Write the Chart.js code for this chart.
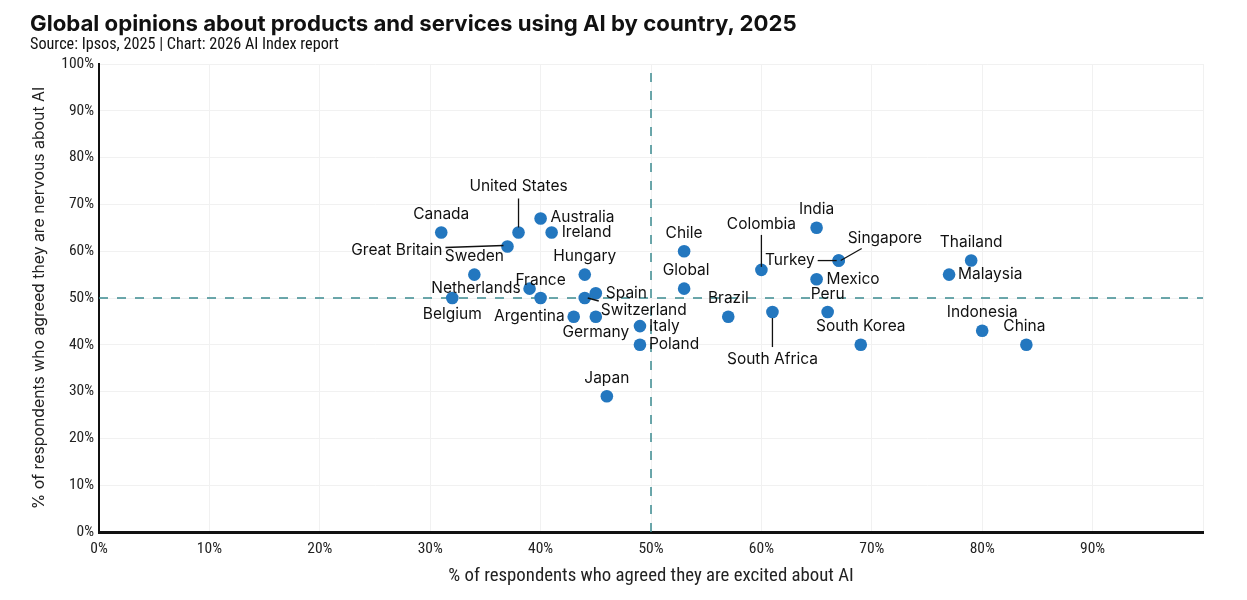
<!DOCTYPE html>
<html>
<head>
<meta charset="utf-8">
<script src="https://cdn.jsdelivr.net/npm/chart.js@4.4.1/dist/chart.umd.min.js"></script>
<style>
  html, body { margin: 0; padding: 0; background: #fff; }
  #wrap { position: relative; width: 1247px; height: 600px; }
  #title { position: absolute; left: 30px; top: 9px; font: 700 22.2px Inter, 'Open Sans', sans-serif; color: #111; white-space: nowrap; }
  #subtitle { position: absolute; left: 30px; top: 34px; font: 16.2px 'Liberation Sans Narrow', 'Roboto Condensed', Roboto, sans-serif; color: #111; white-space: nowrap; }
  canvas { position: absolute; left: 0; top: 0; }
</style>
</head>
<body>
<div id="wrap">
  <canvas id="chart" width="1247" height="600"></canvas>
  <div id="title">Global opinions about products and services using AI by country, 2025</div>
  <div id="subtitle">Source: Ipsos, 2025 | Chart: 2026 AI Index report</div>
</div>
<script>
const countries = ['Canada', 'United States', 'Australia', 'Ireland', 'Great Britain', 'Sweden',
  'Belgium', 'Netherlands', 'France', 'Hungary', 'Spain', 'Switzerland', 'Argentina', 'Germany',
  'Italy', 'Poland', 'Japan', 'Chile', 'Global', 'Colombia', 'India', 'Singapore', 'Turkey',
  'Mexico', 'Peru', 'Brazil', 'South Africa', 'South Korea', 'Thailand', 'Malaysia', 'Indonesia', 'China'];
const excited = [31, 38, 40, 41, 37, 34, 32, 40, 39, 44, 45, 44, 43, 45, 49, 49, 46, 53, 53, 60, 65, 67, 67, 65, 66, 57, 61, 69, 79, 77, 80, 84];
const nervous = [64, 64, 67, 64, 61, 55, 50, 50, 52, 55, 51, 50, 46, 46, 44, 40, 29, 60, 52, 56, 65, 58, 58, 54, 47, 46, 47, 40, 58, 55, 43, 40];

const referenceX = 50;
const referenceY = 50;
const markerX = [-6.8, 101];
const markerY = [68, 68];

// label placement relative to each dot (pixels); line = leader line [x1, y1, x2, y2]
const placement = {
  'Canada': { align: 'center', dx: 0, dy: -18 },
  'United States': { align: 'center', dx: 0, dy: -46, line: [0, -34, 0, -5] },
  'Australia': { align: 'left', dx: 10, dy: -1 },
  'Ireland': { align: 'left', dx: 10, dy: 0 },
  'Great Britain': { align: 'right', dx: -65, dy: 4, line: [-62, 1, -4, -1] },
  'Sweden': { align: 'center', dx: 0, dy: -18 },
  'Belgium': { align: 'center', dx: 0, dy: 16 },
  'Netherlands': { align: 'right', dx: -20, dy: -10 },
  'France': { align: 'center', dx: 11, dy: -8 },
  'Hungary': { align: 'center', dx: 0, dy: -18 },
  'Spain': { align: 'left', dx: 10, dy: 0 },
  'Switzerland': { align: 'left', dx: 16, dy: 12, line: [3, 0, 14, 3] },
  'Argentina': { align: 'right', dx: -9, dy: 0 },
  'Germany': { align: 'center', dx: 0, dy: 16 },
  'Italy': { align: 'left', dx: 9, dy: 0 },
  'Poland': { align: 'left', dx: 9, dy: 0 },
  'Japan': { align: 'center', dx: 0, dy: -18 },
  'Chile': { align: 'center', dx: 0, dy: -18 },
  'Global': { align: 'center', dx: 2, dy: -18 },
  'Colombia': { align: 'center', dx: 0, dy: -46, line: [0, -35, 0, -3] },
  'India': { align: 'center', dx: 0, dy: -18 },
  'Singapore': { align: 'left', dx: 9, dy: -22, line: [2, 0, 23, -12] },
  'Turkey': { align: 'right', dx: -24, dy: 0, line: [-21, 0, -2, 0] },
  'Mexico': { align: 'left', dx: 10, dy: 0 },
  'Peru': { align: 'center', dx: 0, dy: -18 },
  'Brazil': { align: 'center', dx: 0, dy: -18 },
  'South Africa': { align: 'center', dx: 0, dy: 47, line: [0, 6, 0, 35] },
  'South Korea': { align: 'center', dx: 0, dy: -18 },
  'Thailand': { align: 'center', dx: 0, dy: -18 },
  'Malaysia': { align: 'left', dx: 9, dy: 0 },
  'Indonesia': { align: 'center', dx: 0, dy: -18 },
  'China': { align: 'center', dx: -2, dy: -18 },
};

const narrowFont = "'Liberation Sans Narrow', 'Roboto Condensed', Roboto, sans-serif";
const labelFont = "Inter, 'Open Sans', sans-serif";

const pointLabels = {
  id: 'pointLabels',
  afterDatasetsDraw(chart) {
    const meta = chart.getDatasetMeta(0);
    const ctx = chart.ctx;
    ctx.save();
    ctx.font = '15.5px ' + labelFont;
    ctx.fillStyle = '#111';
    ctx.strokeStyle = '#111';
    ctx.lineWidth = 1.3;
    ctx.textBaseline = 'middle';
    meta.data.forEach((pt, i) => {
      const p = placement[countries[i]];
      if (!p) return;
      if (p.line) {
        ctx.beginPath();
        ctx.moveTo(pt.x + p.line[0], pt.y + p.line[1]);
        ctx.lineTo(pt.x + p.line[2], pt.y + p.line[3]);
        ctx.stroke();
      }
      ctx.textAlign = p.align;
      ctx.fillText(countries[i], pt.x + p.dx, pt.y + p.dy);
    });
    ctx.restore();
  },
};

new Chart(document.getElementById('chart').getContext('2d'), {
  type: 'scatter',
  data: {
    datasets: [
      {
        label: 'Countries',
        data: excited.map((x, i) => ({ x, y: nervous[i] })),
        backgroundColor: '#2377bf',
        borderWidth: 0,
        pointRadius: 6.3,
        order: 0,
      },
      {
        type: 'line',
        data: [{ x: referenceX, y: 0 }, { x: referenceX, y: 100 }],
        borderColor: '#3b8a90',
        borderWidth: 1.5,
        borderDash: [9, 9],
        pointRadius: 0,
        order: 2,
      },
      {
        type: 'line',
        data: [{ x: 0, y: referenceY }, { x: 100, y: referenceY }],
        borderColor: '#3b8a90',
        borderWidth: 1.5,
        borderDash: [9, 9],
        pointRadius: 0,
        order: 2,
      },
      {
        data: markerX.map((x, i) => ({ x, y: markerY[i] })),
        backgroundColor: '#222',
        borderWidth: 0,
        pointRadius: 6,
        clip: false,
        order: 1,
      },
    ],
  },
  options: {
    responsive: false,
    animation: false,
    devicePixelRatio: 1,
    layout: { padding: { top: 64, right: 44, left: 0, bottom: 0 } },
    plugins: {
      legend: { display: false },
      tooltip: { enabled: false },
    },
    scales: {
      x: {
        type: 'linear',
        min: 0,
        max: 100,
        afterFit: (scale) => { scale.height = 68; },
        ticks: {
          stepSize: 10,
          padding: 8,
          color: '#222',
          font: { size: 15.5, family: narrowFont },
          callback: (v) => (v >= 100 ? '' : v + '%'),
        },
        grid: { color: '#f1f1f1', drawTicks: false },
        border: { color: '#111', width: 3 },
        title: {
          display: true,
          text: '% of respondents who agreed they are excited about AI',
          color: '#222',
          font: { size: 18.8, family: narrowFont },
          padding: { top: 0, bottom: 12 },
        },
      },
      y: {
        min: 0,
        max: 100,
        afterFit: (scale) => { scale.width = 99; },
        ticks: {
          stepSize: 10,
          padding: 5,
          color: '#222',
          font: { size: 15.5, family: narrowFont },
          callback: (v) => v + '%',
        },
        grid: { color: '#f1f1f1', drawTicks: false },
        border: { color: '#111', width: 2 },
        title: {
          display: true,
          text: '% of respondents who agreed they are nervous about AI',
          color: '#222',
          font: { size: 15.8, family: labelFont },
          padding: { top: 30, bottom: 0 },
        },
      },
    },
  },
  plugins: [pointLabels],
});
</script>
</body>
</html>
